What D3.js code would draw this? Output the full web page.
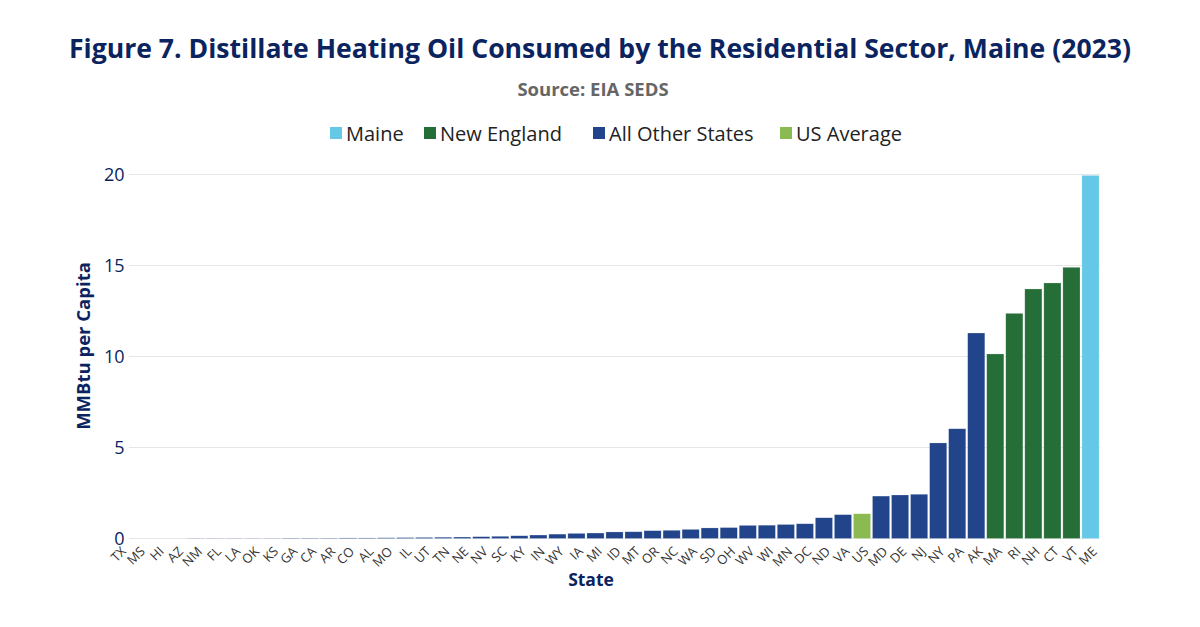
<!DOCTYPE html>
<html><head><meta charset="utf-8">
<script src="https://cdn.jsdelivr.net/npm/d3@7"></script>
<style>
html,body{margin:0;padding:0;background:#fff;}
svg{display:block;font-family:"Open Sans",sans-serif;}
</style></head>
<body><svg id="c" width="1200" height="627"></svg>
<script>
const states = ["TX","MS","HI","AZ","NM","FL","LA","OK","KS","GA","CA","AR","CO","AL","MO","IL","UT","TN","NE","NV","SC","KY","IN","WY","IA","MI","ID","MT","OR","NC","WA","SD","OH","WV","WI","MN","DC","ND","VA","US","MD","DE","NJ","NY","PA","AK","MA","RI","NH","CT","VT","ME"];
const values = [0.0,0.0,0.0,0.0,0.01,0.01,0.01,0.01,0.01,0.02,0.02,0.02,0.03,0.03,0.04,0.05,0.06,0.07,0.08,0.10,0.12,0.15,0.19,0.24,0.28,0.30,0.36,0.37,0.43,0.45,0.50,0.58,0.60,0.72,0.73,0.77,0.81,1.14,1.31,1.36,2.33,2.39,2.43,5.25,6.03,11.29,10.14,12.37,13.71,14.04,14.90,19.95];
const groups = states.map(s => s==="ME" ? "Maine" : (["MA","RI","NH","CT","VT"].includes(s) ? "New England" : (s==="US" ? "US Average" : "All Other States")));
const legendNames = ["Maine","New England","All Other States","US Average"];
const legendColors = ["#64c8e6","#266e37","#21448a","#8bba52"];
const yTicks = [0,5,10,15,20];

const svg = d3.select("#c");
const navy = "#0b2460";
const color = d3.scaleOrdinal().domain(legendNames).range(legendColors);

const x = d3.scaleBand().domain(states).range([110,1100]).paddingInner(0.1).paddingOuter(0.05);
const y = d3.scaleLinear().domain([0,20]).range([538.5,174.5]);

// title
svg.append("text").attr("x",600).attr("y",58).attr("text-anchor","middle")
  .attr("font-size",26.6).attr("font-weight",700).attr("fill",navy)
  .text("Figure 7. Distillate Heating Oil Consumed by the Residential Sector, Maine (2023)");
svg.append("text").attr("x",593).attr("y",96).attr("text-anchor","middle")
  .attr("font-size",18.5).attr("font-weight",700).attr("fill","#666")
  .text("Source: EIA SEDS");

// legend
const legX = [330,424,593,780];
const lg = svg.append("g");
legendNames.forEach((n,i)=>{
  lg.append("rect").attr("x",legX[i]).attr("y",127).attr("width",12).attr("height",12).attr("fill",legendColors[i]);
  lg.append("text").attr("x",legX[i]+16).attr("y",140.5).attr("font-size",20).attr("fill","#222").text(n);
});

// grid
const grid = svg.append("g");
grid.selectAll("line").data(yTicks).join("line")
  .attr("x1",129).attr("x2",1100).attr("y1",d=>y(d)).attr("y2",d=>y(d))
  .attr("stroke","#e6e6e6").attr("stroke-width",1);

// y axis
const yAxis = svg.append("g").attr("transform","translate(129,0)")
  .call(d3.axisLeft(y).tickValues(yTicks).tickSize(0).tickPadding(4.5));
yAxis.select(".domain").remove();
yAxis.selectAll("text").attr("font-size",18).attr("fill",navy).attr("font-family","Open Sans").attr("dy","0.32em");

svg.append("text").attr("transform","translate(90,346) rotate(-90)").attr("text-anchor","middle")
  .attr("font-size",18.5).attr("font-weight",700).attr("fill",navy).text("MMBtu per Capita");

// bars
svg.append("g").selectAll("rect").data(states).join("rect")
  .attr("x",d=>x(d)).attr("width",x.bandwidth())
  .attr("y",(d,i)=>y(values[i])).attr("height",(d,i)=>y(0)-y(values[i]))
  .attr("fill",(d,i)=>color(groups[i]))
  .attr("stroke","rgba(255,255,255,0.35)").attr("stroke-width",0.6);

// x axis
const xAxis = svg.append("g").attr("transform","translate(0,540)")
  .call(d3.axisBottom(x).tickSize(0).tickPadding(4));
xAxis.select(".domain").remove();
xAxis.selectAll("text").attr("font-size",13).attr("fill","#333").attr("font-family","Open Sans")
  .attr("text-anchor","end").attr("dy","0.7em")
  .attr("transform",function(){ return "translate(-2,3) rotate(-45)"; });

svg.append("text").attr("x",591).attr("y",586).attr("text-anchor","middle")
  .attr("font-size",17.5).attr("font-weight",700).attr("fill",navy).text("State");
</script></body></html>
